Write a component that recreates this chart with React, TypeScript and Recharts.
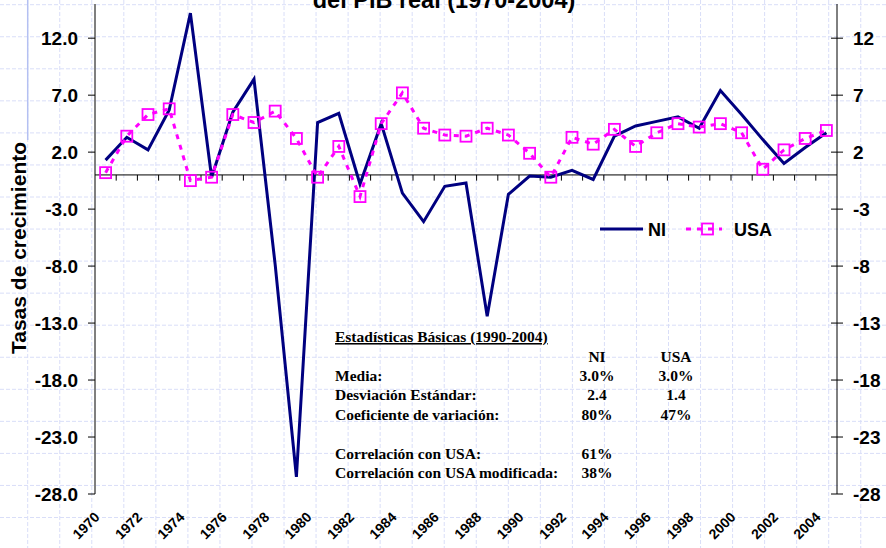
import React from "react";
import {
  Legend,
  Line,
  LineChart,
  ReferenceLine,
  XAxis,
  YAxis,
} from "recharts";

const years = [
  1970, 1971, 1972, 1973, 1974, 1975, 1976, 1977, 1978, 1979, 1980, 1981,
  1982, 1983, 1984, 1985, 1986, 1987, 1988, 1989, 1990, 1991, 1992, 1993,
  1994, 1995, 1996, 1997, 1998, 1999, 2000, 2001, 2002, 2003, 2004,
];

const niGrowth = [
  1.3, 3.3, 2.2, 5.7, 14.2, -0.2, 5.5, 8.4, -7.9, -26.5, 4.6, 5.4, -0.8, 4.5,
  -1.6, -4.1, -1.0, -0.7, -12.4, -1.7, -0.1, -0.2, 0.4, -0.4, 3.4, 4.3, 4.7,
  5.1, 4.1, 7.4, 5.3, 3.1, 1.0, 2.4, 3.7,
];

const usaGrowth = [
  0.2, 3.4, 5.3, 5.8, -0.5, -0.2, 5.3, 4.6, 5.6, 3.2, -0.2, 2.5, -1.9, 4.5,
  7.2, 4.1, 3.5, 3.4, 4.1, 3.5, 1.9, -0.2, 3.3, 2.7, 4.0, 2.5, 3.7, 4.5, 4.2,
  4.5, 3.7, 0.5, 2.2, 3.2, 3.9,
];

const yTicks = [-28, -23, -18, -13, -8, -3, 2, 7, 12];
const yearTicks = [
  1970, 1972, 1974, 1976, 1978, 1980, 1982, 1984, 1986, 1988, 1990, 1992,
  1994, 1996, 1998, 2000, 2002, 2004,
];

const statLabels = [
  "Media:",
  "Desviación Estándar:",
  "Coeficiente de variación:",
  "",
  "Correlación con USA:",
  "Correlación con USA modificada:",
];
const statNI = ["3.0%", "2.4", "80%", "", "61%", "38%"];
const statUSA = ["3.0%", "1.4", "47%", "", "", ""];

const data = years.map((year, i) => ({
  year,
  NI: niGrowth[i],
  USA: usaGrowth[i],
}));

const sans = "'Liberation Sans', Arial, sans-serif";
const serif = "'Liberation Serif', 'Times New Roman', serif";

const SquareDot = (props: any) => {
  const { cx, cy, index } = props;
  if (cx == null || cy == null) return null;
  return (
    <rect
      key={`sq-${index}`}
      x={cx - 5.5}
      y={cy - 5.5}
      width={11}
      height={11}
      fill="none"
      stroke="#FF00FF"
      strokeWidth={1.8}
    />
  );
};

const YearTick = (props: any) => {
  const { x, y, payload } = props;
  const ax = x - 5;
  const ay = y + 16;
  return (
    <text
      x={ax}
      y={ay}
      transform={`rotate(-45 ${ax} ${ay})`}
      textAnchor="end"
      fontSize={14}
      fontWeight="bold"
      fontFamily={sans}
      fill="#000"
    >
      {payload.value}
    </text>
  );
};

const RightTick = (props: any) => {
  const { x, y, payload } = props;
  return (
    <g>
      <line x1={x - 22} x2={x - 10} y1={y} y2={y} stroke="#000" />
      <text
        x={x}
        y={y}
        dy="0.36em"
        textAnchor="start"
        fontSize={19}
        fontWeight="bold"
        fontFamily={sans}
        fill="#000"
      >
        {payload.value}
      </text>
    </g>
  );
};

const renderLegend = (props: any) => {
  const { payload } = props;
  const ni = payload.find((p: any) => p.value === "NI");
  const usa = payload.find((p: any) => p.value === "USA");
  return (
    <svg width={190} height={24} style={{ display: "block" }}>
      <line x1={2} x2={45} y1={11} y2={11} stroke={ni?.color} strokeWidth={3} />
      <text x={50} y={18} fontSize={18} fontWeight="bold" fontFamily={sans}>
        NI
      </text>
      <line
        x1={88}
        x2={124}
        y1={11}
        y2={11}
        stroke={usa?.color}
        strokeWidth={3}
        strokeDasharray="5 6"
      />
      <rect
        x={104}
        y={5.5}
        width={11}
        height={11}
        fill="none"
        stroke={usa?.color}
        strokeWidth={1.8}
      />
      <text x={136} y={18} fontSize={18} fontWeight="bold" fontFamily={sans}>
        USA
      </text>
    </svg>
  );
};

export default function App() {
  const gridX: number[] = [];
  for (let gx = 27.7; gx < 886; gx += 32.04) gridX.push(gx);
  const gridY: number[] = [];
  for (let gy = 4.7; gy < 548; gy += 32.05) gridY.push(gy);

  return (
    <div
      style={{
        position: "absolute",
        left: 0,
        top: 0,
        width: 886,
        height: 548,
        overflow: "hidden",
        background: "#fff",
      }}
    >
      {/* background paper grid */}
      <svg
        width={886}
        height={548}
        style={{ position: "absolute", left: 0, top: 0 }}
      >
        {gridX.map((gx) => (
          <line
            key={`gx${gx}`}
            x1={gx}
            x2={gx}
            y1={0}
            y2={548}
            stroke="#d9def8"
            strokeDasharray="4 2"
          />
        ))}
        {gridY.map((gy) => (
          <line
            key={`gy${gy}`}
            x1={0}
            x2={886}
            y1={gy}
            y2={gy}
            stroke="#d9def8"
            strokeDasharray="4 2"
          />
        ))}
        <line x1={27.7} x2={27.7} y1={0} y2={140} stroke="#b4c0f2" strokeWidth={1.5} />
      </svg>

      <div style={{ position: "absolute", left: 0, top: 0 }}>
        <LineChart
          width={886}
          height={548}
          data={data}
          margin={{ top: 4, right: 0, bottom: 0, left: 0 }}
        >
          <XAxis
            dataKey="year"
            type="number"
            domain={[1969.5, 2004.5]}
            ticks={yearTicks}
            axisLine={false}
            tickLine={false}
            tickSize={6}
            height={54}
            tick={<YearTick />}
            interval={0}
          />
          <YAxis
            yAxisId="left"
            domain={[-28, 15]}
            ticks={yTicks}
            width={95}
            allowDataOverflow
            axisLine={{ stroke: "#000" }}
            tickLine={{ stroke: "#000" }}
            tickSize={7}
            tickMargin={10}
            tickFormatter={(v: number) => v.toFixed(1)}
            tick={{
              fontSize: 19,
              fontWeight: "bold",
              fill: "#000",
              fontFamily: sans,
            }}
            interval={0}
          />
          <YAxis
            yAxisId="right"
            orientation="right"
            domain={[-28, 15]}
            ticks={yTicks}
            width={49}
            allowDataOverflow
            axisLine={{ stroke: "#000" }}
            tickLine={false}
            tickSize={6}
            tickMargin={10}
            tick={<RightTick />}
            interval={0}
          />
          <ReferenceLine yAxisId="left" y={0} stroke="#000" strokeWidth={1} />
          {years.slice(1).map((yr) => (
            <ReferenceLine
              key={`zt${yr}`}
              yAxisId="left"
              segment={[
                { x: yr - 0.5, y: 0 },
                { x: yr - 0.5, y: -0.5 },
              ]}
              stroke="#000"
              strokeWidth={1}
            />
          ))}
          <Line
            yAxisId="left"
            dataKey="NI"
            name="NI"
            stroke="#000080"
            strokeWidth={3}
            dot={false}
            isAnimationActive={false}
          />
          <Line
            yAxisId="left"
            dataKey="USA"
            name="USA"
            stroke="#FF00FF"
            strokeWidth={3}
            strokeDasharray="5 6"
            dot={<SquareDot />}
            isAnimationActive={false}
          />
          <Legend
            layout="horizontal"
            verticalAlign="middle"
            align="center"
            content={renderLegend}
            wrapperStyle={{ left: 598, top: 218, width: 190 }}
          />
        </LineChart>
      </div>

      {/* title (cropped at the top as in the source), axis label and statistics box */}
      <svg
        width={886}
        height={548}
        style={{ position: "absolute", left: 0, top: 0, pointerEvents: "none" }}
      >
        <text
          x={444}
          y={8}
          textAnchor="middle"
          fontSize={23.5}
          fontWeight="bold"
          fontFamily={sans}
        >
          del PIB real (1970-2004)
        </text>
        <text
          x={25.5}
          y={248}
          transform="rotate(-90 25.5 248)"
          textAnchor="middle"
          fontSize={21}
          fontWeight="bold"
          fontFamily={sans}
        >
          Tasas de crecimiento
        </text>
        <g fontFamily={serif} fontWeight="bold" fontSize={15.5} fill="#000">
          <text x={335} y={342} textDecoration="underline">
            Estadísticas Básicas (1990-2004)
          </text>
          <text x={597} y={361.5} textAnchor="middle">
            NI
          </text>
          <text x={676} y={361.5} textAnchor="middle">
            USA
          </text>
          {statLabels.map((label, i) => (
            <g key={`st${i}`}>
              <text x={335} y={381 + i * 19.4}>
                {label}
              </text>
              <text x={597} y={381 + i * 19.4} textAnchor="middle">
                {statNI[i]}
              </text>
              <text x={676} y={381 + i * 19.4} textAnchor="middle">
                {statUSA[i]}
              </text>
            </g>
          ))}
        </g>
      </svg>
    </div>
  );
}
